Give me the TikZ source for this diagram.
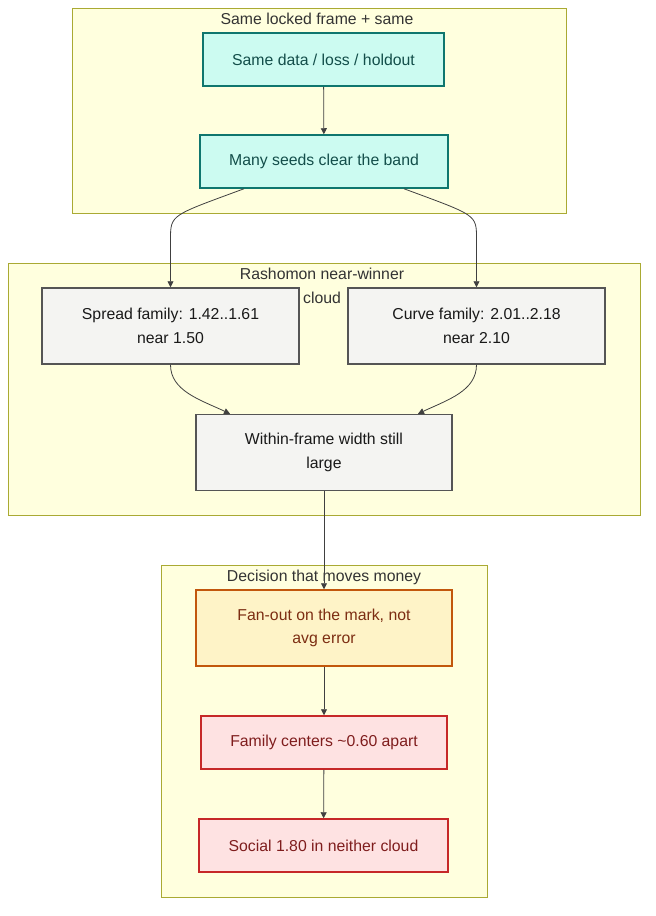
\documentclass[tikz,border=0pt]{standalone}
\usepackage{fontspec}
\setmainfont{Liberation Sans}
\usetikzlibrary{positioning,arrows.meta}
\definecolor{clfill}{HTML}{FFFFDE}
\definecolor{cldraw}{HTML}{AAAA33}
\definecolor{tealfill}{HTML}{CCFBF1}
\definecolor{tealdraw}{HTML}{0F766E}
\definecolor{tealtext}{HTML}{134E4A}
\definecolor{grayfill}{HTML}{F4F4F2}
\definecolor{graydraw}{HTML}{555555}
\definecolor{orfill}{HTML}{FEF3C7}
\definecolor{ordraw}{HTML}{C2570C}
\definecolor{ortext}{HTML}{7C2D12}
\definecolor{redfill}{HTML}{FEE2E2}
\definecolor{reddraw}{HTML}{C62828}
\definecolor{redtext}{HTML}{7F1D1D}
\begin{document}
\begin{tikzpicture}[x=1pt,y=-1pt,
 every node/.style={font=\fontsize{15.8}{23.5}\selectfont,align=center,inner sep=0pt},
 cluster/.style={draw=cldraw,fill=clfill,line width=0.8pt},
 ctitle/.style={text=black!80},
 box/.style={line width=1.5pt,minimum width=#1},
 teal/.style={box=241pt,minimum height=53pt,draw=tealdraw,fill=tealfill,text=tealtext},
 plain/.style={box=257pt,minimum height=76pt,draw=graydraw,fill=grayfill,text=black!90},
 warn/.style={box=256pt,minimum height=76pt,draw=ordraw,fill=orfill,text=ortext},
 bad/.style={box=246pt,minimum height=53pt,draw=reddraw,fill=redfill,text=redtext},
 link/.style={draw=black!75,line width=0.8pt,-{Triangle[length=6pt,width=6pt]}}]
 \useasboundingbox (0,0) rectangle (656,916);

 % clusters
 \draw[cluster] (72,8) rectangle (566,213);
 \node[ctitle] (t1) at (317,19) {Same locked frame + same};
 \draw[cluster] (8,263) rectangle (640,515);
 \node[ctitle] (t2) at (322,286) {Rashomon near-winner\\cloud};
 \draw[cluster] (161,565) rectangle (487,897);
 \node[ctitle] (t3) at (324,577) {Decision that moves money};

 % nodes
 \node[teal] (src) at (323.5,59.5) {Same data / loss / holdout};
 \node[teal,minimum width=248pt] (seeds) at (324,161.5) {Many seeds clear the band};
 \node[plain] (spread) at (170.5,326) {Spread family: 1.42..1.61\\near 1.50};
 \node[plain] (curve) at (476.5,326) {Curve family: 2.01..2.18\\near 2.10};
 \node[plain,minimum width=256pt] (width) at (324,452.5) {Within-frame width still\\large};
 \node[warn] (fan) at (324,628) {Fan-out on the mark, not\\avg error};
 \node[bad] (centers) at (324,742.5) {Family centers \textasciitilde0.60 apart};
 \node[bad,minimum width=249pt] (social) at (323.5,845.5) {Social 1.80 in neither cloud};

 % connectors
 \draw[link] (src) -- (seeds);
 \draw[link] ([xshift=-80pt]seeds.south) .. controls +(-73,27) and +(0,-25) .. ([yshift=48pt]spread.north) -- (spread.north);
 \draw[link] ([xshift=80pt]seeds.south) .. controls +(73,27) and +(0,-25) .. ([yshift=48pt]curve.north) -- (curve.north);
 \draw[link] (spread.south) .. controls +(0,26) and +(-30,-14) .. ([xshift=-94pt]width.north);
 \draw[link] (curve.south) .. controls +(0,26) and +(30,-14) .. ([xshift=94pt]width.north);
 \draw[link] (width) -- (fan);
 \draw[link] (fan) -- (centers);
 \draw[link] (centers) -- (social);
\end{tikzpicture}
\end{document}
